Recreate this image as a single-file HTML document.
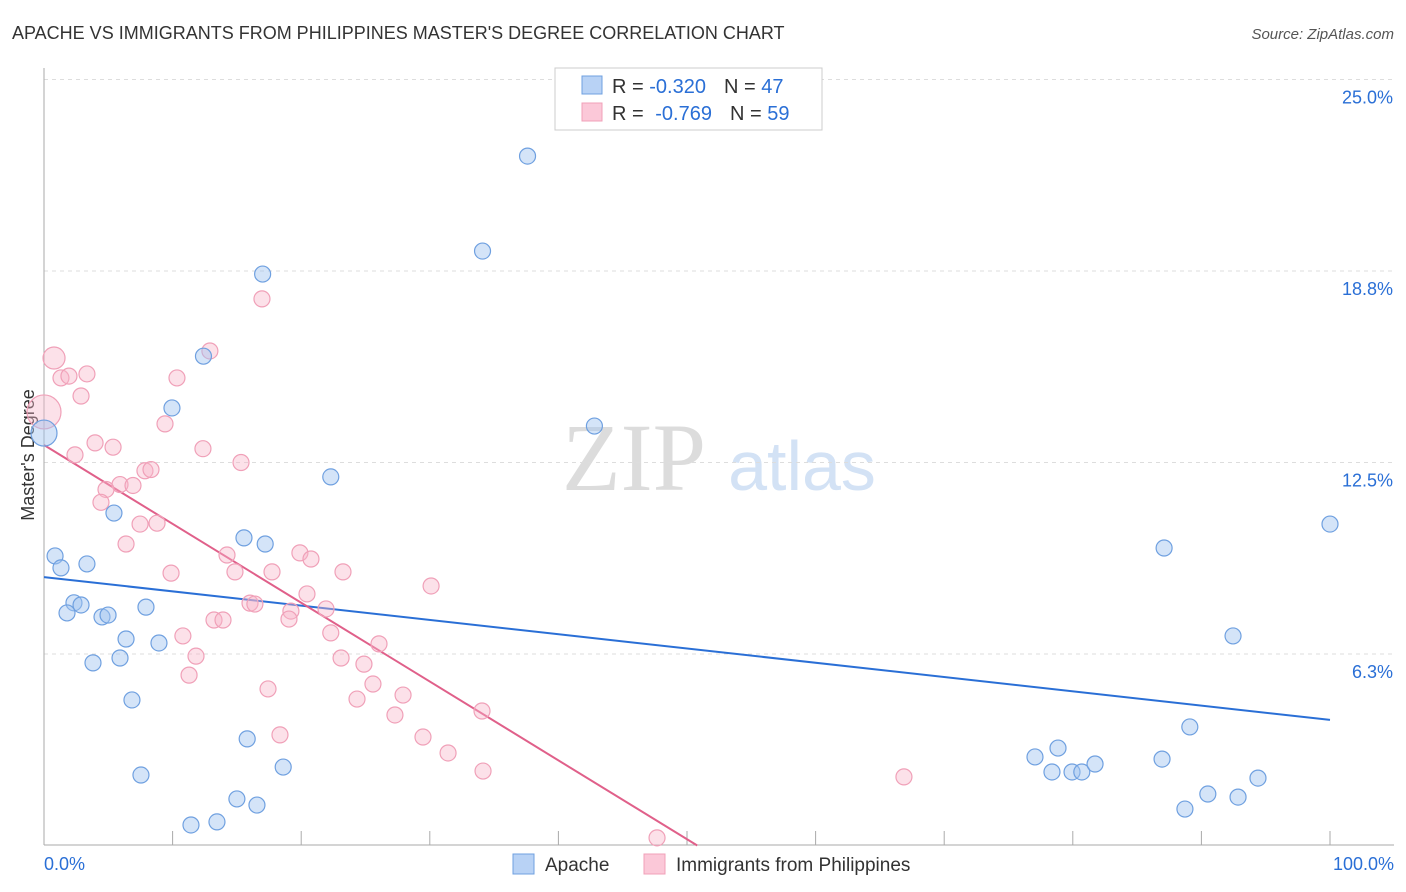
<!DOCTYPE html>
<html><head><meta charset="utf-8"><style>
body{margin:0;background:#fff;font-family:"Liberation Sans",sans-serif;}
#wrap{position:relative;width:1406px;height:892px;overflow:hidden;}
</style></head><body>
<div id="wrap">
<svg id="svg" width="1406" height="892" xmlns="http://www.w3.org/2000/svg">
<text x="12" y="39" font-size="18" fill="#333">APACHE VS IMMIGRANTS FROM PHILIPPINES MASTER'S DEGREE CORRELATION CHART</text>
<text x="1394" y="39" font-size="15" fill="#555" font-style="italic" text-anchor="end">Source: ZipAtlas.com</text>
<text x="634" y="490" font-size="96" fill="#dcdcdc" font-family="Liberation Serif" text-anchor="middle">ZIP</text>
<text x="802" y="490" font-size="70" fill="#d3e2f5" text-anchor="middle">atlas</text>
<text x="34" y="455" font-size="18" fill="#333" text-anchor="middle" transform="rotate(-90 34 455)">Master's Degree</text>
<g id="grid"></g>
<g id="axes"></g>
<g id="lines"></g>
<g id="pts"></g>
<g>
<rect x="555" y="68" width="267" height="62" fill="#fff" stroke="#ccc"/>
<rect x="582" y="76" width="20" height="18" fill="#b8d2f5" stroke="#6fa0e0"/>
<rect x="582" y="103" width="20" height="18" fill="#fbc8d8" stroke="#f0a0b8"/>
<text x="612" y="93" font-size="20" fill="#333">R = <tspan fill="#2a6fd6">-0.320</tspan><tspan dx="18">N = </tspan><tspan fill="#2a6fd6">47</tspan></text>
<text x="612" y="120" font-size="20" fill="#333">R = <tspan dx="6" fill="#2a6fd6">-0.769</tspan><tspan dx="18">N = </tspan><tspan fill="#2a6fd6">59</tspan></text>
</g>
<g>
<rect x="513" y="854" width="21" height="20" fill="#b8d2f5" stroke="#6fa0e0"/>
<text x="545" y="871" font-size="19" fill="#333">Apache</text>
<rect x="644" y="854" width="21" height="20" fill="#fbc8d8" stroke="#f0a0b8"/>
<text x="676" y="871" font-size="19" fill="#333">Immigrants from Philippines</text>
</g>
</svg>
</div>
<script>
const yTicks=[25.0,18.75,12.5,6.25];
const yTickLabels=["25.0%","18.8%","12.5%","6.3%"];
const xTicks=[0,10,20,30,40,50,60,70,80,90,100];
const apacheX=[37.6,34.1,17.0,12.4,9.95,42.8,22.3,0,5.44,15.55,17.2,0.86,1.32,3.34,2.33,2.88,1.79,4.51,4.98,7.93,6.38,8.94,3.81,5.91,6.84,15.8,18.6,7.54,15.0,16.56,11.43,13.45,87.1,100,92.46,89.1,77.06,78.85,78.38,79.94,80.7,81.73,86.94,94.4,90.5,92.85,88.72];
const apacheY=[22.5,19.4,18.65,15.97,14.28,13.69,12.03,13.46,10.85,10.04,9.84,9.45,9.06,9.19,7.92,7.85,7.59,7.46,7.52,7.78,6.74,6.61,5.96,6.12,4.75,3.48,2.56,2.30,1.52,1.32,0.67,0.77,9.71,10.49,6.84,3.87,2.89,3.18,2.40,2.40,2.40,2.66,2.82,2.20,1.68,1.58,1.19];
const phX=[0.78,0,1.32,1.94,3.34,2.88,12.9,16.95,10.34,9.41,3.97,5.37,2.41,12.36,15.32,7.85,8.32,5.91,4.82,6.92,4.43,7.47,8.79,6.38,14.23,19.9,20.76,14.85,9.88,17.73,23.25,30.1,20.45,16.02,16.4,19.2,21.93,13.22,13.92,19.05,10.8,22.3,26.05,11.82,23.1,24.88,11.28,25.58,17.42,27.92,24.34,27.29,34.06,18.35,29.47,31.42,34.14,66.87,47.67];
const phY=[15.91,14.15,15.26,15.32,15.39,14.67,16.14,17.84,15.26,13.76,13.14,13.0,12.75,12.95,12.5,12.23,12.27,11.78,11.62,11.75,11.2,10.49,10.52,9.84,9.48,9.55,9.35,8.93,8.89,8.93,8.93,8.47,8.21,7.91,7.88,7.65,7.72,7.36,7.36,7.39,6.84,6.94,6.58,6.18,6.12,5.92,5.56,5.27,5.11,4.91,4.78,4.26,4.39,3.61,3.54,3.02,2.43,2.24,0.25];
const apacheTrend=[8.76,4.10];
const phTrend=[13.07,-0.2573];
const NS="http://www.w3.org/2000/svg";
function sx(v){return 44+v*12.86;}
function sy(v){return 845.5-v*30.64;}
function mk(t,a,p){const e=document.createElementNS(NS,t);for(const k in a)e.setAttribute(k,a[k]);p.appendChild(e);return e;}
const grid=document.getElementById('grid'),axes=document.getElementById('axes'),lines=document.getElementById('lines'),pts=document.getElementById('pts');
yTicks.forEach((t,i)=>{
 const l=mk('line',{x1:44,x2:1394,y1:sy(t),y2:sy(t),stroke:'#ddd','stroke-dasharray':'4,4'},grid);
 
 
 const tx=mk('text',{x:1393,y:sy(t)+24,'font-size':18,fill:'#2a6fd6','text-anchor':'end'},grid);
 tx.textContent=yTickLabels[i];
 
 
});
mk('line',{x1:44,x2:44,y1:68,y2:845,stroke:'#aaa'},axes);
mk('line',{x1:44,x2:1394,y1:845,y2:845,stroke:'#aaa'},axes);
xTicks.forEach(t=>{
 const l=mk('line',{x1:sx(t),x2:sx(t),y1:831,y2:845,stroke:'#aaa'},axes);
 
 
});
const x0=mk('text',{x:44,y:870,'font-size':18,fill:'#2a6fd6'},axes);x0.textContent='0.0%';


const x1=mk('text',{x:1394,y:870,'font-size':18,fill:'#2a6fd6','text-anchor':'end'},axes);x1.textContent='100.0%';


phX.forEach((x,i)=>{
 const r=i===1?17:(i===0?11:8);
 const c=mk('circle',{cx:sx(x),cy:sy(phY[i]),r:r,fill:'rgba(248,180,200,0.4)',stroke:'#f0a0b8','stroke-width':1.2},pts);
 
 
});
apacheX.forEach((x,i)=>{
 const r=i===7?13:8;
 const c=mk('circle',{cx:sx(x),cy:sy(apacheY[i]),r:r,fill:'rgba(160,196,240,0.45)',stroke:'#6fa0e0','stroke-width':1.2},pts);
 
 
});
const bl=mk('line',{x1:sx(0),y1:sy(apacheTrend[0]),x2:sx(100),y2:sy(apacheTrend[1]),stroke:'#2a6fd6','stroke-width':2},lines);


const xe=-phTrend[0]/phTrend[1];
const pl=mk('line',{x1:sx(0),y1:sy(phTrend[0]),x2:sx(xe),y2:sy(0),stroke:'#e0608a','stroke-width':2},lines);


</script>
</body></html>
